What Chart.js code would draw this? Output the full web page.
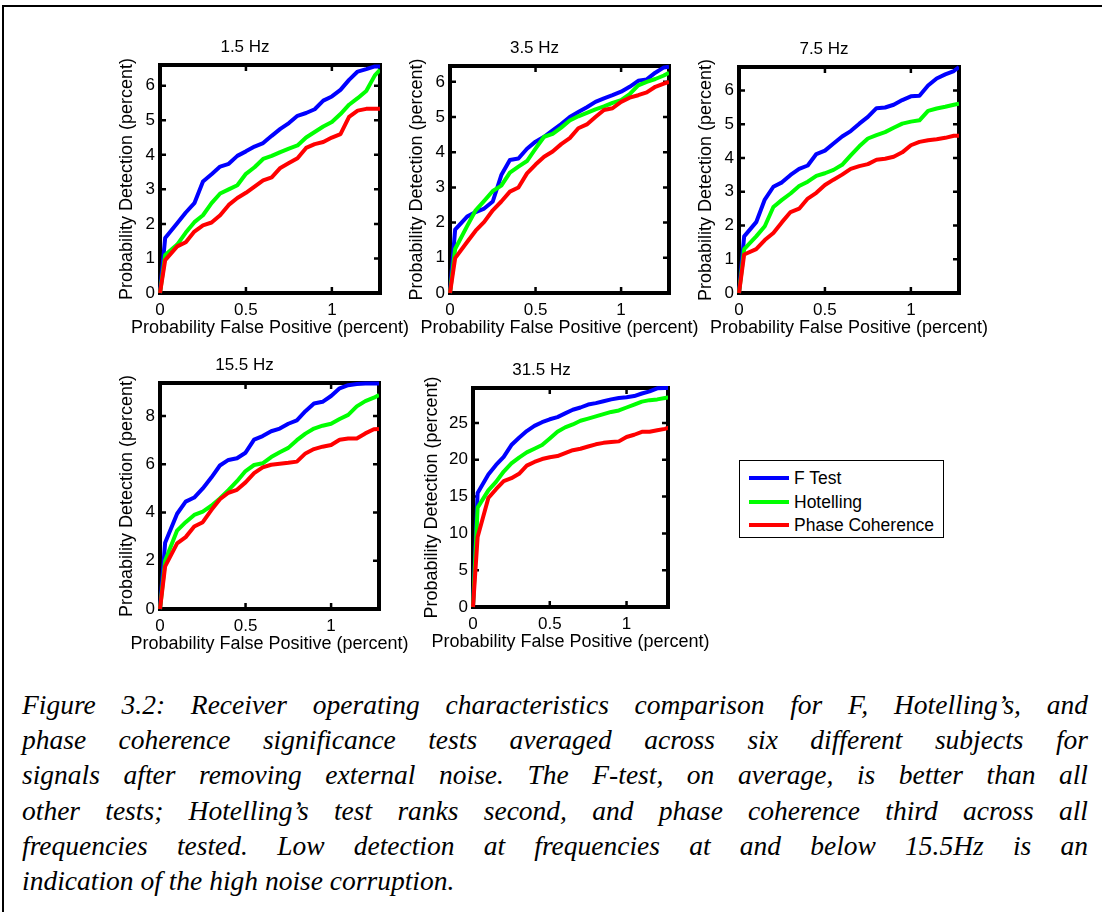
<!DOCTYPE html>
<html>
<head>
<meta charset="utf-8">
<script src="https://cdn.jsdelivr.net/npm/chart.js@4.4.1/dist/chart.umd.min.js"></script>
<style>
  html, body { margin: 0; padding: 0; background: #fff; }
  #page { position: relative; width: 1102px; height: 912px; overflow: hidden; background: #fff; }
  #frame { position: absolute; left: 2px; top: 5px; right: 0; bottom: 0;
           border-top: 2px solid #000; border-left: 2px solid #000; }
  canvas { position: absolute; }
  #legend { position: absolute; left: 739px; top: 460px; width: 203px; height: 76px;
            border: 1px solid #000; background: #fff;
            font: 17.5px "Liberation Sans", Arial, sans-serif; color: #000; }
  .item { position: absolute; left: 0; height: 20px; line-height: 20px; white-space: nowrap; }
  .item span { display: inline-block; vertical-align: middle; }
  .swatch { width: 40px; height: 4px; margin: 0 5px 0 9px; }
  #caption { position: absolute; left: 22px; top: 687px; width: 1066px;
             font: italic 27.5px "Liberation Serif", "Times New Roman", serif; color: #000; }
  .cline { height: 35.2px; line-height: 35.2px; white-space: nowrap; text-align: justify; text-align-last: justify; }
  .cline.last { text-align-last: left; }
</style>
</head>
<body>
<div id="page">
  <div id="frame"></div>
  <div id="legend"></div>
  <div id="caption"></div>
</div>
<script>
// false positive rate (percent), shared by all panels
const FPR = [0, 0.03, 0.1, 0.15, 0.2, 0.25, 0.3, 0.35, 0.4, 0.45, 0.5, 0.55, 0.6, 0.65, 0.7,
             0.75, 0.8, 0.85, 0.9, 0.95, 1.0, 1.05, 1.1, 1.15, 1.2, 1.25, 1.28];

const SERIES_NAMES = ['F Test', 'Hotelling', 'Phase Coherence'];
const SERIES_COLORS = ['#0000ff', '#00ff00', '#ff0000'];

const TITLES = ['1.5 Hz', '3.5 Hz', '7.5 Hz', '15.5 Hz', '31.5 Hz'];

// detection probability (percent)
const fTest1 = [0, 1.59, 2.02, 2.33, 2.6, 3.23, 3.44, 3.66, 3.74, 3.97, 4.1, 4.24, 4.34, 4.55, 4.75, 4.92, 5.13, 5.21, 5.32, 5.57, 5.69, 5.88, 6.17, 6.41, 6.48, 6.56, 6.56];
const hot1   = [0, 1.1, 1.4, 1.75, 2.05, 2.25, 2.6, 2.88, 3.0, 3.12, 3.45, 3.64, 3.88, 3.97, 4.08, 4.18, 4.27, 4.5, 4.66, 4.82, 4.95, 5.18, 5.45, 5.64, 5.85, 6.3, 6.46];
const phase1 = [0, 0.95, 1.35, 1.47, 1.78, 1.96, 2.04, 2.25, 2.55, 2.75, 2.9, 3.08, 3.26, 3.35, 3.62, 3.76, 3.9, 4.2, 4.31, 4.37, 4.5, 4.6, 5.1, 5.28, 5.33, 5.33, 5.33];

const fTest3 = [0, 1.8, 2.17, 2.3, 2.4, 2.6, 3.35, 3.78, 3.82, 4.1, 4.3, 4.44, 4.62, 4.8, 5.0, 5.14, 5.28, 5.43, 5.53, 5.62, 5.72, 5.86, 6.03, 6.07, 6.26, 6.41, 6.43];
const hot3   = [0, 1.25, 1.9, 2.35, 2.62, 2.9, 3.05, 3.42, 3.59, 3.75, 4.1, 4.44, 4.52, 4.7, 4.9, 5.02, 5.12, 5.22, 5.3, 5.4, 5.48, 5.65, 5.9, 6.0, 6.08, 6.18, 6.26];
const phase3 = [0, 0.99, 1.45, 1.77, 2.02, 2.35, 2.6, 2.88, 3.0, 3.4, 3.65, 3.87, 4.02, 4.23, 4.4, 4.68, 4.79, 5.0, 5.2, 5.25, 5.43, 5.55, 5.62, 5.7, 5.86, 5.95, 6.0];

const fTest7 = [0, 1.68, 2.1, 2.77, 3.15, 3.28, 3.5, 3.68, 3.78, 4.12, 4.22, 4.43, 4.64, 4.8, 5.02, 5.22, 5.48, 5.5, 5.58, 5.72, 5.83, 5.85, 6.15, 6.36, 6.48, 6.58, 6.7];
const hot7   = [0, 1.3, 1.68, 1.98, 2.55, 2.76, 2.95, 3.17, 3.3, 3.47, 3.55, 3.65, 3.8, 4.08, 4.35, 4.58, 4.68, 4.77, 4.9, 5.02, 5.08, 5.12, 5.4, 5.47, 5.52, 5.58, 5.61];
const phase7 = [0, 1.14, 1.3, 1.57, 1.78, 2.1, 2.4, 2.5, 2.8, 2.97, 3.2, 3.36, 3.51, 3.68, 3.76, 3.82, 3.95, 3.98, 4.04, 4.17, 4.38, 4.48, 4.53, 4.56, 4.6, 4.66, 4.66];

const fTest15 = [0, 2.75, 3.95, 4.45, 4.62, 5.0, 5.45, 5.95, 6.18, 6.25, 6.48, 7.02, 7.17, 7.37, 7.48, 7.68, 7.82, 8.2, 8.52, 8.59, 8.83, 9.15, 9.28, 9.33, 9.35, 9.35, 9.35];
const hot15   = [0, 2.0, 3.25, 3.6, 3.9, 4.04, 4.28, 4.58, 4.93, 5.3, 5.72, 5.97, 6.04, 6.3, 6.5, 6.68, 7.0, 7.27, 7.48, 7.6, 7.68, 7.88, 8.05, 8.4, 8.62, 8.76, 8.87];
const phase15 = [0, 1.77, 2.72, 2.98, 3.42, 3.6, 4.1, 4.55, 4.82, 4.94, 5.25, 5.63, 5.87, 5.98, 6.02, 6.06, 6.11, 6.45, 6.63, 6.73, 6.8, 7.02, 7.07, 7.07, 7.28, 7.45, 7.46];

const fTest31 = [0, 15.5, 18.0, 19.3, 20.4, 22.0, 23.0, 23.9, 24.6, 25.1, 25.5, 25.8, 26.3, 26.8, 27.1, 27.5, 27.7, 27.95, 28.2, 28.4, 28.5, 28.65, 29.0, 29.3, 29.7, 29.75, 29.75];
const hot31   = [0, 13.5, 15.85, 17.0, 18.4, 19.5, 20.3, 21.0, 21.5, 22.0, 22.9, 23.8, 24.4, 24.8, 25.3, 25.6, 25.9, 26.2, 26.5, 26.7, 27.1, 27.5, 27.9, 28.1, 28.2, 28.4, 28.5];
const phase31 = [0, 9.5, 14.8, 16.0, 17.1, 17.5, 18.1, 19.2, 19.7, 20.1, 20.35, 20.5, 20.9, 21.3, 21.5, 21.8, 22.1, 22.3, 22.4, 22.5, 23.1, 23.4, 23.8, 23.8, 24.0, 24.2, 24.4];

// tick labels
const X_TICKS = [0, 0.5, 1];
const Y_TICKS_SMALL = [0, 1, 2, 3, 4, 5, 6];
const Y_TICKS_15 = [0, 2, 4, 6, 8];
const Y_TICKS_31 = [0, 5, 10, 15, 20, 25];

const X_LABEL = 'Probability False Positive (percent)';
const Y_LABEL = 'Probability Detection (percent)';

const CAPTION = [
    'Figure 3.2: Receiver operating characteristics comparison for F, Hotelling\u2019s, and',
    'phase coherence significance tests averaged across six different subjects for',
    'signals after removing external noise. The F-test, on average, is better than all',
    'other tests; Hotelling\u2019s test ranks second, and phase coherence third across all',
    'frequencies tested. Low detection at frequencies at and below 15.5Hz is an',
    'indication of the high noise corruption.'
];

// plot box positions on the page (left, top, right, bottom)
const panels = [
    { title: TITLES[0], series: [fTest1, hot1, phase1], yTicks: Y_TICKS_SMALL, yMax: 6.6, xMax: 1.28, box: [160, 65, 380, 293], yAxisW: 50 },
    { title: TITLES[1], series: [fTest3, hot3, phase3], yTicks: Y_TICKS_SMALL, yMax: 6.45, xMax: 1.28, box: [450, 66, 669, 293], yAxisW: 50 },
    { title: TITLES[2], series: [fTest7, hot7, phase7], yTicks: Y_TICKS_SMALL, yMax: 6.7, xMax: 1.28, box: [739, 67, 959, 293], yAxisW: 50 },
    { title: TITLES[3], series: [fTest15, hot15, phase15], yTicks: Y_TICKS_15, yMax: 9.37, xMax: 1.28, box: [160, 383, 379, 609], yAxisW: 50 },
    { title: TITLES[4], series: [fTest31, hot31, phase31], yTicks: Y_TICKS_31, yMax: 29.75, xMax: 1.27, box: [473, 388, 668, 607], yAxisW: 58 }
];

const FONT = '"Liberation Sans", Arial, sans-serif';
const TOP_SPACE = 35;
const BOTTOM_SPACE = 50;
const RIGHT_SPACE = 45;

// black box, inward tick marks and axis titles (drawn under the curves)
const boxPlugin = {
    id: 'box',
    beforeDatasetsDraw(chart) {
        const {ctx, chartArea: a, scales: {x, y}} = chart;
        const yTitleOffset = chart.options.plugins.box.yTitleOffset;
        ctx.save();
        ctx.strokeStyle = '#000';
        ctx.lineWidth = 2.5;
        ctx.beginPath();
        x.ticks.forEach(t => {
            const px = x.getPixelForValue(t.value);
            ctx.moveTo(px, a.bottom); ctx.lineTo(px, a.bottom - 6);
            ctx.moveTo(px, a.top); ctx.lineTo(px, a.top + 6);
        });
        y.ticks.forEach(t => {
            const py = y.getPixelForValue(t.value);
            ctx.moveTo(a.left, py); ctx.lineTo(a.left + 6, py);
            ctx.moveTo(a.right, py); ctx.lineTo(a.right - 6, py);
        });
        ctx.stroke();
        ctx.lineWidth = 4;
        ctx.strokeRect(a.left, a.top, a.right - a.left, a.bottom - a.top);

        ctx.fillStyle = '#000';
        ctx.font = '18px ' + FONT;
        ctx.textAlign = 'center';
        ctx.textBaseline = 'middle';
        ctx.fillText(X_LABEL, (a.left + a.right) / 2, a.bottom + 35);
        ctx.translate(a.left - yTitleOffset, (a.top + a.bottom) / 2);
        ctx.rotate(-Math.PI / 2);
        ctx.fillText(Y_LABEL, 0, 0);
        ctx.restore();
    }
};

function makePanel(p) {
    const [L, T, R, B] = p.box;
    const canvas = document.createElement('canvas');
    const w = (R - L) + p.yAxisW + RIGHT_SPACE;
    const h = (B - T) + TOP_SPACE + BOTTOM_SPACE;
    canvas.width = w;
    canvas.height = h;
    canvas.style.left = (L - p.yAxisW) + 'px';
    canvas.style.top = (T - TOP_SPACE) + 'px';
    canvas.style.width = w + 'px';
    canvas.style.height = h + 'px';
    document.getElementById('page').appendChild(canvas);

    // draw order like the original: red on top of green on top of blue
    const datasets = p.series.map((values, i) => ({
        label: SERIES_NAMES[i],
        data: FPR.map((fp, k) => ({ x: fp, y: values[k] })),
        borderColor: SERIES_COLORS[i],
        borderWidth: 4,
        borderJoinStyle: 'round',
        pointRadius: 0,
        tension: 0,
        fill: false,
        order: 3 - i,
        clip: { left: 3, top: 3, right: 0, bottom: 3 }
    }));

    new Chart(canvas, {
        type: 'line',
        data: { datasets: datasets },
        plugins: [boxPlugin],
        options: {
            responsive: false,
            animation: false,
            devicePixelRatio: 1,
            layout: { padding: { left: 0, top: 0, right: RIGHT_SPACE, bottom: 0 } },
            plugins: {
                legend: { display: false },
                tooltip: { enabled: false },
                title: {
                    display: true,
                    text: p.title,
                    color: '#000',
                    font: { family: FONT, size: 17, weight: 'normal' },
                    padding: { top: 6.8, bottom: 7.8 }
                },
                box: { yTitleOffset: p.yAxisW - 17 }
            },
            scales: {
                x: {
                    type: 'linear',
                    min: 0,
                    max: p.xMax,
                    grid: { display: false, drawTicks: false },
                    border: { display: false },
                    ticks: {
                        color: '#000',
                        font: { family: FONT, size: 17 },
                        padding: 7,
                        maxRotation: 0,
                        callback: v => String(v)
                    },
                    afterBuildTicks: s => { s.ticks = X_TICKS.map(v => ({ value: v })); },
                    afterFit: s => { s.height = BOTTOM_SPACE; }
                },
                y: {
                    type: 'linear',
                    min: 0,
                    max: p.yMax,
                    grid: { display: false, drawTicks: false },
                    border: { display: false },
                    ticks: {
                        color: '#000',
                        font: { family: FONT, size: 17 },
                        padding: 5,
                        callback: v => String(v)
                    },
                    afterBuildTicks: s => { s.ticks = p.yTicks.map(v => ({ value: v })); },
                    afterFit: s => { s.width = p.yAxisW; }
                }
            }
        }
    });
}

function makeLegend() {
    const legend = document.getElementById('legend');
    SERIES_NAMES.forEach((name, i) => {
        const row = document.createElement('div');
        row.className = 'item';
        row.style.top = (6 + i * 23.3) + 'px';
        row.innerHTML = '<span class="swatch" style="background:' + SERIES_COLORS[i] + '"></span><span>' + name + '</span>';
        legend.appendChild(row);
    });
}

function makeCaption() {
    const cap = document.getElementById('caption');
    CAPTION.forEach((line, i) => {
        const div = document.createElement('div');
        div.className = 'cline' + (i === CAPTION.length - 1 ? ' last' : '');
        div.textContent = line;
        cap.appendChild(div);
    });
}

panels.forEach(makePanel);
makeLegend();
makeCaption();
</script>
</body>
</html>
